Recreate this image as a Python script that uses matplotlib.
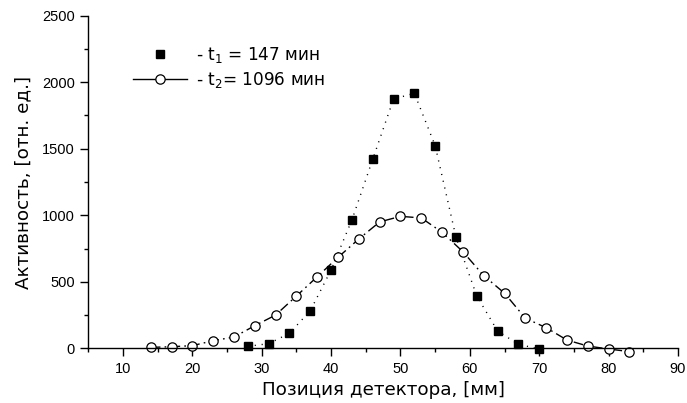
import numpy as np
import matplotlib.pyplot as plt
from matplotlib.lines import Line2D
from matplotlib.ticker import MultipleLocator

plt.rcParams['font.family'] = ['Liberation Sans', 'DejaVu Sans']

# t1 = 147 min (filled squares)
pos_t1 = [28, 31, 34, 37, 40, 43, 46, 49, 52, 55, 58, 61, 64, 67, 70]
act_t1 = [15, 35, 113, 283, 589, 965, 1421, 1874, 1917, 1523, 835, 393, 130, 30, -5]

# t2 = 1096 min (open circles)
pos_t2 = [14, 17, 20, 23, 26, 29, 32, 35, 38, 41, 44, 47, 50, 53,
          56, 59, 62, 65, 68, 71, 74, 77, 80, 83]
act_t2 = [7, 12, 20, 57, 85, 170, 250, 393, 538, 684, 822, 950, 992, 980,
          872, 726, 546, 414, 226, 155, 62, 17, -5, -25]

labels = ['- t$_1$ = 147 мин', '- t$_2$= 1096 мин']

fig = plt.figure(figsize=(6.87, 4.03), dpi=100)
ax = fig.add_axes([0.1285, 0.1357, 0.8584, 0.8253])

ax.plot(pos_t1, act_t1, color='black', lw=1.0, ls=(0, (0.8, 4.2)),
        marker='s', ms=6.3, mfc='black', mec='black', clip_on=False)
ax.plot(pos_t2, act_t2, color='black', lw=1.0, ls=(0, (7, 3, 1.2, 3)),
        marker='o', ms=6.7, mfc='white', mec='black', mew=0.9, clip_on=False)

ax.set_xlim(5, 90)
ax.set_ylim(0, 2500)
ax.xaxis.set_major_locator(MultipleLocator(10))
ax.xaxis.set_minor_locator(MultipleLocator(5))
ax.yaxis.set_major_locator(MultipleLocator(500))
ax.yaxis.set_minor_locator(MultipleLocator(250))
ax.set_xticks([10, 20, 30, 40, 50, 60, 70, 80, 90])

for side in ('top', 'right'):
    ax.spines[side].set_visible(False)
for side in ('left', 'bottom'):
    ax.spines[side].set_linewidth(1.0)

ax.tick_params(which='major', direction='out', length=5.5, width=1.0,
               labelsize=10.5, pad=4)
ax.tick_params(which='minor', direction='out', length=3, width=1.0)

label_font = {'family': ['DejaVu Sans'], 'size': 13.2}
ax.set_xlabel('Позиция детектора, [мм]', fontdict=label_font, labelpad=4)
ax.set_ylabel('Активность, [отн. ед.]', fontdict=label_font, labelpad=7)

handles = [
    Line2D([], [], ls='none', marker='s', ms=6.3, color='black'),
    Line2D([], [], color='black', lw=1.0, marker='o', ms=6.7,
           mfc='white', mec='black', mew=0.9),
]
fig.legend(handles, labels, loc='upper left',
           bbox_to_anchor=(133 / 687, 1 - 45 / 403), frameon=False,
           prop={'family': ['DejaVu Sans'], 'size': 12.2},
           handlelength=3.2, handletextpad=0.5,
           borderpad=0, borderaxespad=0, labelspacing=0.3)

fig.savefig('out.png', dpi=100)
